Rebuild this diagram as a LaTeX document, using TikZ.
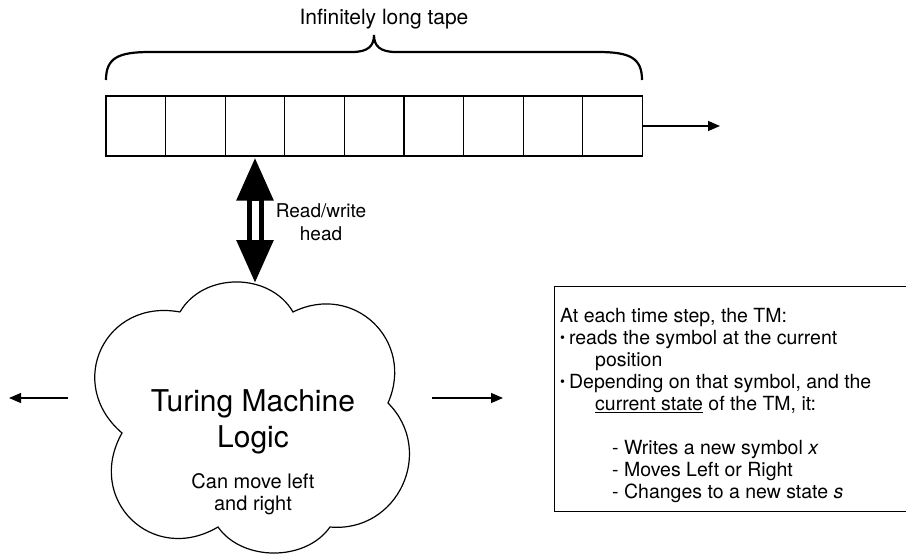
\documentclass[tikz,border=0pt]{standalone}
\usepackage{fontspec}
\setmainfont{TeX Gyre Heros}
\usetikzlibrary{arrows.meta}
\usetikzlibrary{positioning}

\newcommand{\tmdot}{\raisebox{2pt}{\fontsize{14}{14}\selectfont\textbullet}\hspace{4pt}}

\begin{document}
\begin{tikzpicture}[x=1pt,y=-1pt]

\tikzstyle{cell}=[rectangle, draw=black, line width=1.2pt, minimum width=59.6pt, minimum height=60pt, inner sep=0pt]
\tikzstyle{infobox}=[rectangle, draw=black, line width=1.2pt, minimum width=360pt, minimum height=225pt, anchor=north west]
\tikzstyle{label}=[font=\fontsize{19}{23}\selectfont, align=center, inner sep=0pt]

\tikzstyle{connect}=[-{Triangle[length=12pt,width=10pt]}, line width=1.2pt]
\tikzstyle{rwhead}=[{Triangle[length=44pt,width=34pt]}-{Triangle[length=44pt,width=34pt]}, line width=17pt]
\tikzstyle{rwgap}=[draw=white, line width=7pt, shorten <=44pt, shorten >=44pt]

\useasboundingbox (0,0) rectangle (906,555);

% the tape
\foreach \i in {1,...,9}
  \node[cell] (c\i) at ({76.2+59.6*\i}, 126) {};
\coordinate (tapeend) at (720,126);
\path (c9) [connect] edge (tapeend);

\draw[line width=2.2pt]
  (106,80) .. controls (106,58) and (118,52) .. (150,52) -- (352,52)
  .. controls (368,52) and (374,46) .. (374,35)
  .. controls (374,46) and (380,52) .. (396,52) -- (598,52)
  .. controls (630,52) and (642,58) .. (642,80);
\node[label, font=\fontsize{21}{25}\selectfont] (tapelabel) at (384,19) {Infinitely long tape};

% machine (cloud)
\draw[line width=1.2pt]
  (180,312) to[bend left=60, looseness=1.05] (293,312)
  to[bend left=70, looseness=1.32] (388,403)
  to[bend left=70, looseness=1.27] (330,527)
  to[bend left=55, looseness=0.97] (218,527)
  to[bend left=75, looseness=1.45] (122,433)
  to[bend left=75, looseness=1.45] (180,312);
\coordinate (cloudtop) at (255,284);
\node[font=\fontsize{30}{36}\selectfont, align=center, inner sep=0pt] (logic) at (253,422) {Turing Machine\\Logic};
\node[label, font=\fontsize{20}{22}\selectfont] (tmmove) at (253,494) {Can move left\\and right};

\path (c3.south) [rwhead] edge (cloudtop);
\path (c3.south) [rwgap] edge (cloudtop);
\node[label] (rwlabel) at (321,222) {Read/write\\head};

\coordinate (lfrom) at (68,398);
\coordinate (lto) at (9,398);
\coordinate (rfrom) at (432,398);
\coordinate (rto) at (503,398);
\path (lfrom) [connect] edge (lto);
\path (rfrom) [connect] edge (rto);

% what happens at each step
\node[infobox] (rules) at (554,286) {};
\node[anchor=north west, align=left, inner sep=0pt, font=\fontsize{19.5}{22}\selectfont] (steps) at (560,308) {%
At each time step, the TM:\\
\tmdot reads the symbol at the current\\
\hspace*{35pt}position\\
\tmdot Depending on that symbol, and the\\
\hspace*{35pt}\underline{current state} of the TM, it:\\[22pt]
\hspace*{52pt}- Writes a new symbol \textit{x}\\
\hspace*{52pt}- Moves Left or Right\\
\hspace*{52pt}- Changes to a new state \textit{s}};

\end{tikzpicture}
\end{document}
